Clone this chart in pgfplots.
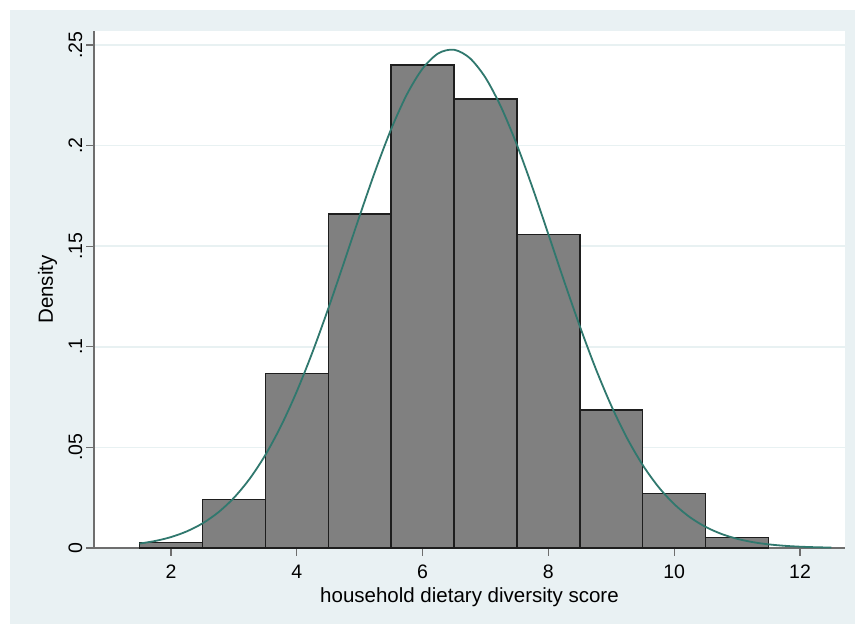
\documentclass[border=0pt]{standalone}
\usepackage{pgfplots}
\pgfplotsset{compat=1.18}
\usepackage{fontspec}
\setmainfont{Liberation Sans}
\definecolor{bgcol}{RGB}{233,241,243}
\definecolor{gridcol}{RGB}{232,241,242}
\definecolor{axgray}{RGB}{110,110,110}
\definecolor{barfill}{RGB}{128,128,128}
\definecolor{baredge}{RGB}{30,30,30}
\definecolor{teal}{RGB}{48,120,110}
\begin{document}
\begin{tikzpicture}[x=1pt,y=1pt]
\path[use as bounding box] (0,0) rectangle (855,624);
\fill[bgcol] (10,0) rectangle (855,614);
\begin{axis}[
  at={(94pt,76pt)}, anchor=south west,
  scale only axis, width=751pt, height=517pt,
  xmin=0.776, xmax=12.715, ymin=0, ymax=0.257,
  axis background/.style={fill=white},
  axis lines=left,
  axis line style={draw=axgray, line width=1.4pt, -},
  xtick={2,4,6,8,10,12},
  xticklabels={\mbox{2},\mbox{4},\mbox{6},\mbox{8},\mbox{10},\mbox{12}},
  ytick={0,0.05,0.1,0.15,0.2,0.25},
  yticklabels={\mbox{0},\mbox{.05},\mbox{.1},\mbox{.15},\mbox{.2},\mbox{.25}},
  tick align=outside,
  major tick length=8pt,
  tick style={draw=axgray, line width=1.3pt},
  ymajorgrids,
  grid style={draw=gridcol, line width=1.5pt},
  /pgf/number format/assume math mode=true,
  tick label style={font=\fontsize{19.5}{23}\selectfont},
  xticklabel style={anchor=base, yshift=-23pt},
  yticklabel style={rotate=90, anchor=base, yshift=4pt},
  label style={font=\fontsize{20.5}{24}\selectfont},
  xlabel={household dietary diversity score},
  ylabel={Density},
  xlabel style={at={(axis description cs:0.5,0)}, anchor=base, yshift=-55pt},
  ylabel style={at={(axis description cs:0,0.5)}, anchor=base, yshift=41pt},
  clip=false,
]
\addplot[ybar interval, fill=barfill, draw=baredge, line width=1.4pt] coordinates {
(1.5,0.0028) (2.5,0.0240) (3.5,0.0866) (4.5,0.1660) (5.5,0.2400)
(6.5,0.2232) (7.5,0.1558) (8.5,0.0686) (9.5,0.0272) (10.5,0.0051) (11.5,0.0051)
};
\addplot[teal, line width=1.8pt, smooth, no markers] coordinates {
(1.5,0.00220) (1.75,0.00350) (2.0,0.00543) (2.25,0.00825) (2.5,0.01222)
(2.75,0.01767) (3.0,0.02494) (3.25,0.03438) (3.5,0.04624) (3.75,0.06073)
(4.0,0.07785) (4.25,0.09742) (4.5,0.11900) (4.75,0.14191) (5.0,0.16519)
(5.25,0.18770) (5.5,0.20821) (5.75,0.22546) (6.0,0.23831) (6.25,0.24589)
(6.5,0.24768) (6.75,0.24354) (7.0,0.23376) (7.25,0.21902) (7.5,0.20033)
(7.75,0.17886) (8.0,0.15590) (8.25,0.13264) (8.5,0.11017) (8.75,0.08932)
(9.0,0.07069) (9.25,0.05462) (9.5,0.04119) (9.75,0.03033) (10.0,0.02180)
(10.25,0.01529) (10.5,0.01047) (10.75,0.00700) (11.0,0.00457) (11.25,0.00291)
(11.5,0.00181) (11.75,0.00110) (12.0,0.00065) (12.25,0.00038) (12.5,0.00021)
};
\end{axis}
\end{tikzpicture}
\end{document}
